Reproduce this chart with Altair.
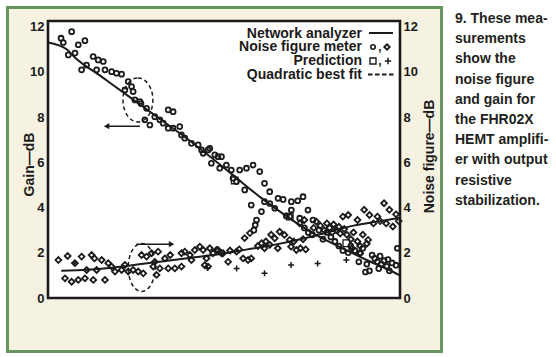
import altair as alt
import pandas as pd

# ---------------- data ----------------
# Network analyzer (solid lines)
gain_line_f = [0, 1.4, 2, 4, 6, 8, 10, 12, 14, 16, 18, 20, 22, 24, 26, 26.5]
gain_line_db = [11.3, 11.0, 10.65, 9.8, 8.95, 8.1, 7.25, 6.35, 5.4, 4.45, 3.6, 2.85, 2.25, 1.68, 1.15, 1.0]
noise_line_f = [1, 3, 5, 7, 9, 11, 13, 15, 17, 19, 21, 23, 25, 26.5]
noise_line_db = [1.2, 1.25, 1.35, 1.5, 1.65, 1.8, 1.95, 2.15, 2.35, 2.6, 2.9, 3.2, 3.4, 3.55]

# Noise figure meter: gain (circles)
gain_pts_f = [0.98, 1.15, 1.78, 2.28, 2.78, 2.03, 1.53, 2.53, 2.9, 3.4, 3.78, 4.16, 3.66, 4.29,
              4.79, 5.16, 5.54, 6.04, 6.29, 5.79, 6.41, 6.54, 6.92, 7.42, 7.0, 7.67, 7.29, 8.04,
              8.42, 9.05, 9.42, 8.67, 9.05, 9.42, 9.92, 10.05, 10.3, 10.8, 11.3, 11.56, 12.06,
              12.18, 12.56, 13.06, 11.68, 12.8, 12.3, 12.93, 13.43, 13.8, 14.43, 14.94, 15.44,
              15.94, 13.93, 14.19, 14.81, 16.3, 16.69, 17.32, 17.7, 18.32, 18.8, 19.2, 16.3,
              16.7, 17.07, 15.3, 16.07, 18.32, 17.94, 18.2, 19.57, 18.95, 19.95, 15.5, 15.6,
              15.7, 19.3, 19.6, 19.9, 20.4, 20.7, 21.0, 21.3, 21.6, 21.9, 22.2, 22.6, 22.8,
              23.1, 23.4, 23.5, 23.7, 24.0, 24.2, 24.4, 24.6, 24.8, 25.0, 25.1, 25.3, 25.5,
              25.7, 25.9, 26.2, 26.3, 23.9, 24.9, 25.6]
gain_pts_db = [11.49, 11.3, 11.78, 11.2, 11.38, 10.83, 10.75, 10.09, 10.3, 10.68, 10.53, 10.46,
               10.09, 10.09, 10.01, 9.94, 9.9, 9.57, 9.35, 9.2, 9.13, 8.76, 8.69, 8.39, 8.6,
               7.65, 7.88, 8.02, 7.88, 8.32, 8.24, 7.73, 7.51, 7.51, 7.58, 7.21, 7.07, 6.84,
               6.77, 6.55, 6.55, 6.62, 6.33, 6.25, 6.4, 6.25, 5.96, 5.74, 5.88, 5.66, 5.66,
               5.74, 5.88, 5.59, 5.3, 5.15, 4.78, 5.07, 4.7, 4.41, 4.36, 4.26, 4.3, 4.48, 4.26,
               4.18, 3.97, 4.11, 3.82, 3.89, 3.63, 3.6, 3.89, 3.53, 3.45, 3.0, 3.23, 3.45,
               3.1, 2.9, 2.8, 3.0, 2.6, 2.9, 2.7, 2.5, 2.3, 2.1, 2.0, 2.3, 2.1, 1.6, 2.0, 2.2,
               1.5, 1.2, 1.9, 1.75, 1.6, 1.85, 1.5, 1.65, 1.4, 1.2, 1.55, 1.45, 2.2, 1.15,
               1.3, 1.7]

# Noise figure meter: noise figure (diamonds)
noise_pts_f = [0.78, 1.48, 1.28, 1.78, 2.28, 2.78, 3.41, 4.29, 2.03, 2.53, 3.28, 3.5, 4.04,
               2.91, 3.66, 4.54, 4.79, 5.04, 5.54, 5.79, 6.04, 6.41, 6.79, 7.17, 7.04, 7.42,
               7.8, 8.29, 8.04, 7.92, 8.42, 8.17, 8.8, 9.2, 9.05, 9.55, 10.05, 10.3, 10.68,
               10.05, 10.8, 11.05, 11.43, 11.68, 11.93, 12.18, 12.43, 12.68, 12.05, 13.06,
               11.8, 12.8, 13.18, 13.56, 14.19, 14.69, 15.06, 15.3, 16.07, 16.3, 16.7, 13.7,
               14.4, 15.8, 14.8, 15.2, 16.4, 16.8, 17.07, 17.3, 17.44, 17.8, 18.2, 18.3,
               18.7, 19.0, 19.4, 18.5, 19.2, 18.95, 19.3, 20.2, 20.0, 20.5, 20.8, 21.0, 21.2,
               21.4, 21.5, 21.7, 21.9, 22.0, 22.2, 22.3, 22.6, 22.5, 22.8, 23.0, 23.3, 23.5,
               23.7, 23.8, 24.1, 24.2, 24.5, 24.8, 25.0, 25.3, 25.46, 25.7, 25.96, 26.2,
               26.4, 23.5, 24.0, 23.3, 22.9]
noise_pts_db = [1.68, 1.86, 0.87, 0.72, 0.8, 0.87, 0.8, 0.8, 1.54, 1.83, 1.9, 1.75, 1.68,
                1.24, 1.24, 1.54, 1.39, 1.17, 1.24, 1.46, 1.17, 1.24, 1.17, 1.09, 1.9, 1.83,
                1.98, 2.05, 1.6, 1.39, 1.31, 1.02, 1.75, 1.9, 1.31, 1.31, 1.98, 2.05, 1.9,
                1.39, 1.68, 2.12, 2.27, 2.12, 1.75, 2.2, 1.98, 2.12, 1.39, 1.98, 1.45, 2.12,
                1.98, 1.6, 2.05, 1.75, 1.68, 1.75, 2.42, 2.2, 2.35, 2.1, 2.15, 2.3, 2.65,
                2.87, 2.5, 2.8, 2.64, 2.2, 2.93, 2.79, 2.57, 2.27, 2.12, 2.2, 2.15, 2.5, 2.6,
                3.3, 3.45, 3.38, 3.1, 3.2, 3.0, 3.3, 3.1, 2.9, 3.25, 3.0, 3.15, 2.85, 3.6,
                3.05, 3.67, 2.8, 2.6, 2.9, 3.45, 2.3, 2.8, 3.9, 2.57, 3.67, 3.3, 3.6, 3.4,
                4.19, 3.3, 3.9, 3.16, 3.7, 3.4, 1.97, 2.4, 2.5, 2.2]

# Prediction: gain (squares) and noise figure (+)
pred_gain_f = [14.06, 18.2, 22.46]
pred_gain_db = [5.2, 3.6, 2.42]
pred_noise_f = [2.0, 12.0, 14.2, 16.3, 18.3, 20.3, 22.46]
pred_noise_db = [1.55, 1.33, 1.31, 1.1, 1.46, 1.53, 1.68]

# Annotations: dashed ellipses and arrows (data coordinates)
ell_gain_f, ell_gain_db = [6.77], [8.76]
ell_noise_f, ell_noise_db = [7.05], [1.35]
arrow_gain_f, arrow_gain_f2, arrow_gain_db = [4.41], [6.92], [7.6]
arrow_noise_f, arrow_noise_f2, arrow_noise_db = [6.67], [9.3], [2.38]

legend_labels = ["Network analyzer", "Noise figure meter", "Prediction", "Quadratic best fit"]
caption_lines = ["9. These mea-", "surements", "show the", "noise figure", "and gain for",
                 "the FHR02X", "HEMT amplifi-", "er with output", "resistive", "stabilization."]
x_ticks = [0, 5, 10, 15, 20, 25]
y_ticks = [0, 2, 4, 6, 8, 10, 12]

# ---------------- styling ----------------
INK = "#1c1a1a"
CREAM = "#f5f2e1"
GREEN = "#66955f"
FONT = "Liberation Sans"
W, H = 352, 277

xsc = alt.Scale(domain=[0, 26.5], nice=False, zero=False)
ysc = alt.Scale(domain=[0, 12.25], nice=False, zero=False)

x_axis = alt.Axis(values=x_ticks, title="Frequency—GHz", domain=False, ticks=False, grid=False,
                  labelFont=FONT, labelFontSize=13, labelFontWeight="bold", labelColor=INK,
                  labelPadding=5, titleFont=FONT, titleFontSize=14, titleFontWeight="bold",
                  titleColor=INK, titleBaseline="alphabetic", titleY=39, titleX=175, zindex=1)
left_axis = alt.Axis(orient="left", values=y_ticks, title="Gain—dB", domain=False, ticks=False,
                     grid=False, labelFont=FONT, labelFontSize=13, labelFontWeight="bold",
                     labelColor=INK, labelPadding=4, titleFont=FONT, titleFontSize=14,
                     titleFontWeight="bold", titleColor=INK, titleAngle=270,
                     titleBaseline="alphabetic", titleX=-15, titleY=143, zindex=1)
right_axis = alt.Axis(orient="right", values=y_ticks, title="Noise figure—dB", domain=False,
                      ticks=False, grid=False, labelFont=FONT, labelFontSize=13,
                      labelFontWeight="bold", labelColor=INK, labelPadding=3, titleFont=FONT,
                      titleFontSize=14, titleFontWeight="bold", titleColor=INK, titleAngle=270,
                      titleBaseline="alphabetic", titleX=33, titleY=135, zindex=1)

one = pd.DataFrame({"k": [0]})


def X(axis=None):
    return alt.X("f:Q", scale=xsc, axis=axis)


def Y(axis=None):
    return alt.Y("v:Q", scale=ysc, axis=axis)


def df(f, v):
    return pd.DataFrame({"f": f, "v": v})


# background panel (cream with green border) and white plot frame
panel = alt.Chart(one).mark_rect(fill=CREAM, stroke=GREEN, strokeWidth=3).encode(
    x=alt.value(-40.5), x2=alt.value(393.5), y=alt.value(-13.5), y2=alt.value(330.5))
frame = alt.Chart(one).mark_rect(fill="white", stroke=INK, strokeWidth=2.6).encode(
    x=alt.value(0), x2=alt.value(W), y=alt.value(0), y2=alt.value(H))

gain_line = alt.Chart(df(gain_line_f, gain_line_db)).mark_line(
    color=INK, strokeWidth=2, interpolate="monotone").encode(x=X(x_axis), y=Y())
noise_line = alt.Chart(df(noise_line_f, noise_line_db)).mark_line(
    color=INK, strokeWidth=2, interpolate="monotone").encode(x=X(), y=Y())

gain_pts = alt.Chart(df(gain_pts_f, gain_pts_db)).mark_point(
    shape="circle", filled=False, color=INK, size=24, strokeWidth=1.8, opacity=1).encode(
    x=X(), y=Y(left_axis))
noise_pts = alt.Chart(df(noise_pts_f, noise_pts_db)).mark_point(
    shape="diamond", filled=False, color=INK, size=34, strokeWidth=1.8, opacity=1).encode(
    x=X(), y=Y(right_axis))
pred_gain = alt.Chart(df(pred_gain_f, pred_gain_db)).mark_point(
    shape="square", filled=False, color=INK, size=44, strokeWidth=1.3, opacity=1).encode(
    x=X(), y=Y())
pred_noise = alt.Chart(df(pred_noise_f, pred_noise_db)).mark_point(
    shape="M-1,0L1,0M0,-1L0,1", filled=False, color=INK, size=36, strokeWidth=1.5,
    opacity=1).encode(x=X(), y=Y())

ell1 = alt.Chart(df(ell_gain_f, ell_gain_db)).mark_point(
    shape="M0,-1A0.68,1,0,1,1,0,1A0.68,1,0,1,1,0,-1Z", filled=False, color=INK, size=1936,
    strokeWidth=1.5, strokeDash=[4, 3], opacity=1).encode(x=X(), y=Y())
ell2 = alt.Chart(df(ell_noise_f, ell_noise_db)).mark_point(
    shape="M0,-1A0.56,1,0,1,1,0,1A0.56,1,0,1,1,0,-1Z", filled=False, color=INK, size=2304,
    strokeWidth=1.5, strokeDash=[4, 3], opacity=1).encode(x=X(), y=Y())

arr_df1 = pd.DataFrame({"f": arrow_gain_f, "f2": arrow_gain_f2, "v": arrow_gain_db})
arr_df2 = pd.DataFrame({"f": arrow_noise_f, "f2": arrow_noise_f2, "v": arrow_noise_db})
arr1 = alt.Chart(arr_df1).mark_rule(color=INK, strokeWidth=1.5).encode(
    x=X(), x2="f2:Q", y=Y())
arr1h = alt.Chart(arr_df1).mark_point(shape="triangle-left", filled=True, color=INK,
                                      size=40, opacity=1).encode(x=X(), y=Y())
arr2 = alt.Chart(arr_df2).mark_rule(color=INK, strokeWidth=1.5).encode(
    x=X(), x2="f2:Q", y=Y())
arr2h = alt.Chart(arr_df2).mark_point(shape="triangle-right", filled=True, color=INK,
                                      size=40, opacity=1).encode(
    x=alt.X("f2:Q", scale=xsc, axis=None), y=Y())

# legend (inside plot, top right)
leg_text = alt.Chart(one).mark_text(
    align="right", baseline="alphabetic", font=FONT, fontSize=14, fontWeight="bold",
    color=INK, lineBreak="\n", lineHeight=13.8).encode(
    x=alt.value(314), y=alt.value(16.5), text=alt.value("\n".join(legend_labels)))
leg_solid = alt.Chart(one).mark_rule(color=INK, strokeWidth=2).encode(
    x=alt.value(321), x2=alt.value(345), y=alt.value(12))
leg_dash = alt.Chart(one).mark_rule(color=INK, strokeWidth=2, strokeDash=[4.5, 2.5]).encode(
    x=alt.value(320), x2=alt.value(347), y=alt.value(53.5))
leg_circ = alt.Chart(one).mark_point(shape="circle", filled=False, color=INK, size=20,
                                     strokeWidth=1.6, opacity=1).encode(
    x=alt.value(325), y=alt.value(26))
leg_diam = alt.Chart(one).mark_point(shape="diamond", filled=False, color=INK, size=30,
                                     strokeWidth=1.8, opacity=1).encode(
    x=alt.value(339), y=alt.value(26))
leg_sq = alt.Chart(one).mark_point(shape="square", filled=False, color=INK, size=36,
                                   strokeWidth=1.4, opacity=1).encode(
    x=alt.value(325), y=alt.value(40))
leg_plus = alt.Chart(one).mark_point(shape="M-1,0L1,0M0,-1L0,1", filled=False, color=INK,
                                     size=40, strokeWidth=1.5, opacity=1).encode(
    x=alt.value(340), y=alt.value(40))
leg_comma = alt.Chart(one).mark_text(
    align="center", baseline="alphabetic", font=FONT, fontSize=12, fontWeight="bold",
    color=INK, lineBreak="\n", lineHeight=14).encode(
    x=alt.value(332), y=alt.value(30), text=alt.value(",\n,"))

caption = alt.Chart(one).mark_text(
    align="left", baseline="alphabetic", font=FONT, fontSize=14, fontWeight="bold",
    color="#231f20", lineBreak="\n", lineHeight=20.2).encode(
    x=alt.value(407), y=alt.value(2), text=alt.value("\n".join(caption_lines)))

chart = alt.layer(
    panel, frame, ell1, ell2, arr1, arr1h, arr2, arr2h,
    gain_line, noise_line, gain_pts, noise_pts, pred_gain, pred_noise,
    leg_text, leg_solid, leg_dash, leg_circ, leg_diam, leg_sq, leg_plus, leg_comma, caption
).resolve_scale(y="independent").properties(
    width=W, height=H,
    autosize=alt.AutoSizeParams(type="none"),
    padding={"left": 48, "top": 21, "right": 156, "bottom": 59},
    background="white",
).configure_view(stroke=None)

chart.save("out.html", embed_options={"renderer": "svg", "actions": False})
